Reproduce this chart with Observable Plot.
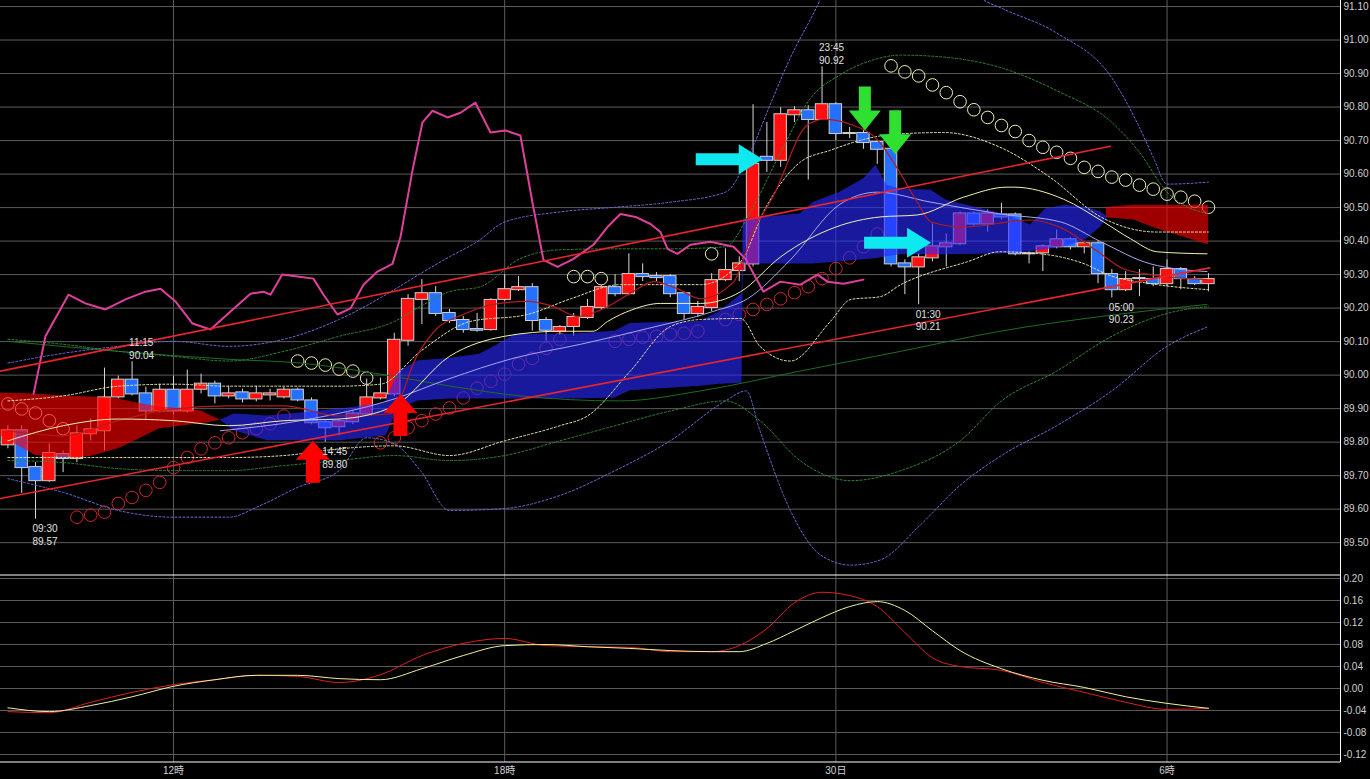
<!DOCTYPE html>
<html><head><meta charset="utf-8">
<script src="https://cdn.jsdelivr.net/npm/d3@7"></script>
<script src="https://cdn.jsdelivr.net/npm/@observablehq/plot@0.6"></script>
<style>
html,body{margin:0;padding:0;background:#000;}
#chart{width:1370px;height:779px;overflow:hidden;background:#000;}
#chart svg{display:block;}
</style></head><body><div id="chart"></div>
<script>
// ---- 15-minute candles, index 0 = 09:00 ----
const opens  = [89.792,89.834,89.724,89.685,89.763,89.751,89.825,89.834,89.935,89.985,89.944,89.893,89.955,89.893,89.958,89.973,89.938,89.947,89.929,89.941,89.935,89.955,89.923,89.858,89.846,89.861,89.884,89.932,89.944,90.104,90.226,90.243,90.184,90.163,90.136,90.136,90.226,90.255,90.261,90.163,90.131,90.145,90.172,90.202,90.261,90.243,90.300,90.294,90.294,90.243,90.184,90.202,90.285,90.312,90.332,90.650,90.641,90.777,90.789,90.763,90.807,90.721,90.721,90.694,90.674,90.332,90.323,90.350,90.383,90.392,90.481,90.451,90.478,90.478,90.362,90.365,90.383,90.404,90.383,90.392,90.300,90.255,90.288,90.285,90.273,90.315,90.285,90.273];
const highs  = [89.849,89.849,89.739,89.795,89.774,89.849,89.869,90.021,89.997,90.04,89.964,89.973,89.997,90.015,90.003,89.982,89.967,89.958,89.967,89.958,89.964,89.961,89.932,89.864,89.867,89.893,89.988,89.991,90.125,90.240,90.285,90.264,90.196,90.175,90.184,90.228,90.300,90.294,90.273,90.172,90.148,90.184,90.226,90.267,90.300,90.362,90.332,90.306,90.300,90.249,90.220,90.303,90.377,90.353,90.807,90.754,90.798,90.801,90.804,90.92,90.813,90.739,90.730,90.700,90.680,90.344,90.362,90.451,90.421,90.487,90.487,90.493,90.513,90.484,90.368,90.389,90.433,90.410,90.398,90.398,90.315,90.309,90.315,90.323,90.344,90.321,90.294,90.303];
const lows   = [89.780,89.647,89.57,89.680,89.709,89.739,89.804,89.774,89.929,89.938,89.864,89.887,89.881,89.887,89.944,89.914,89.929,89.917,89.920,89.923,89.929,89.920,89.852,89.80,89.819,89.852,89.878,89.926,89.935,90.086,90.151,90.175,90.154,90.125,90.128,90.131,90.220,90.249,90.131,90.101,90.119,90.116,90.166,90.196,90.234,90.237,90.279,90.279,90.231,90.166,90.172,90.190,90.279,90.279,90.323,90.605,90.620,90.754,90.582,90.760,90.700,90.706,90.674,90.629,90.323,90.240,90.21,90.338,90.323,90.386,90.445,90.427,90.463,90.356,90.332,90.309,90.377,90.374,90.362,90.273,90.23,90.249,90.234,90.264,90.264,90.255,90.267,90.249];
const closes = [89.834,89.724,89.685,89.766,89.751,89.825,89.837,89.932,89.985,89.944,89.893,89.955,89.893,89.955,89.973,89.938,89.944,89.929,89.944,89.944,89.955,89.926,89.858,89.843,89.861,89.884,89.932,89.944,90.104,90.226,90.243,90.184,90.163,90.136,90.134,90.223,90.255,90.261,90.163,90.134,90.142,90.172,90.202,90.261,90.243,90.300,90.294,90.291,90.243,90.184,90.202,90.282,90.312,90.332,90.629,90.641,90.777,90.789,90.763,90.807,90.721,90.721,90.694,90.674,90.332,90.323,90.350,90.383,90.392,90.481,90.451,90.481,90.472,90.362,90.362,90.383,90.404,90.383,90.392,90.303,90.255,90.285,90.288,90.273,90.315,90.288,90.273,90.285];

// ---- axis ticks ----
const priceTicks = [89.5,89.6,89.7,89.8,89.9,90.0,90.1,90.2,90.3,90.4,90.5,90.6,90.7,90.8,90.9,91.0,91.1];
const oscTicks = [-0.12,-0.08,-0.04,0,0.04,0.08,0.12,0.16,0.20];
const timeTickIdx = [12,36,60,84];
const timeTickLabels = ["12時","18時","30日","6時"];

// ---- ichimoku cloud [index, upper, lower] ----
const cloudRedLeft = [[-0.54,89.947,89.819],[2,89.944,89.760],[4,89.938,89.754],[6,89.935,89.757],[8,89.929,89.780],[9,89.92,89.80],[11,89.905,89.84],[12,89.902,89.845],[14,89.893,89.855],[15.4,89.865,89.865]];
const cloudBlue = [[15.4,89.865,89.865],[16.4,89.884,89.834],[18.8,89.878,89.804],[21.2,89.887,89.804],[24.1,89.899,89.804],[27.4,89.917,89.819],[28.2,90.006,89.893],[29.7,90.042,89.923],[32.1,90.050,89.929],[34.2,90.062,89.929],[36.2,90.107,89.929],[36.8,90.122,89.929],[40.8,90.122,89.929],[44,90.131,89.932],[45.1,90.154,89.953],[50.2,90.160,89.967],[51.6,90.190,89.973],[53.2,90.243,89.976],[53.3,90.466,90.332],[57.4,90.481,90.332],[58.4,90.516,90.332],[60.3,90.546,90.338],[62,90.585,90.344],[62.9,90.626,90.347],[63.7,90.567,90.353],[64.7,90.555,90.359],[66.9,90.552,90.359],[68,90.522,90.359],[72.4,90.478,90.362],[74.1,90.448,90.368],[75.2,90.496,90.374],[76.6,90.507,90.383],[78.1,90.501,90.404],[79.2,90.487,90.442],[79.7,90.472,90.472]];
const cloudRedRight = [[79.6,90.50,90.47],[81.6,90.507,90.463],[83.3,90.507,90.436],[84,90.507,90.427],[87,90.507,90.389]];

// ---- parabolic SAR [index, price] ----
const sarUpper = [[0,89.914],[1,89.899],[2,89.887],[3,89.864],[4,89.840],[21,90.042],[22,90.036],[23,90.030],[24,90.018],[25,90.012],[26,89.991],[41,90.294],[42,90.294],[43,90.288],[51,90.362],[64,90.923],[65,90.905],[66,90.893],[67,90.866],[68,90.843],[69,90.816],[70,90.792],[71,90.769],[72,90.745],[73,90.727],[74,90.700],[75,90.680],[76,90.665],[77,90.647],[78,90.620],[79,90.608],[80,90.591],[81,90.582],[82,90.567],[83,90.555],[84,90.540],[85,90.531],[86,90.519],[87,90.501]];
const sarLower = [[5,89.576],[6,89.582],[7,89.591],[8,89.617],[9,89.635],[10,89.656],[11,89.680],[12,89.724],[13,89.754],[14,89.780],[15,89.798],[16,89.813],[17,89.828],[18,89.840],[19,89.855],[20,89.878],[27,89.798],[28,89.813],[29,89.843],[30,89.864],[31,89.884],[32,89.902],[33,89.932],[34,89.961],[35,89.982],[36,90.003],[37,90.033],[38,90.050],[39,90.080],[40,90.107],[44,90.101],[45,90.107],[46,90.113],[47,90.116],[48,90.122],[49,90.125],[50,90.131],[52,90.166],[53,90.181],[54,90.196],[55,90.211],[56,90.228],[57,90.246],[58,90.264],[59,90.288],[60,90.318],[61,90.350],[62,90.383],[63,90.421]];

// ---- bands and averages [index, price] ----
const bandOuterUpper = [[0,90.036],[4,90.065],[8,90.086],[12,90.101],[16,90.086],[20,90.107],[24,90.166],[28,90.255],[29.9,90.303],[32,90.353],[34,90.398],[36,90.457],[40,90.487],[44,90.501],[48,90.516],[52,90.546],[53.8,90.665],[55.3,90.813],[56.7,90.947],[58.2,91.065],[60.3,91.228],[64.7,91.347],[68.3,91.228],[70.5,91.125],[72,91.095],[76,91.021],[80,90.887],[82,90.739],[83,90.650],[84,90.570],[87,90.576]];
const bandOuterLower = [[0,89.691],[4,89.650],[8,89.596],[12,89.576],[16,89.576],[18.3,89.611],[21,89.665],[24,89.715],[26,89.813],[28,89.795],[29.9,89.715],[32,89.596],[36,89.602],[40,89.641],[44,89.715],[48,89.804],[52,89.923],[53.5,89.953],[54.5,89.834],[56.7,89.596],[58.9,89.463],[61.1,89.433],[63.2,89.448],[66.1,89.552],[69,89.671],[72,89.760],[76,89.849],[80,89.953],[84,90.086],[87,90.145]];
const bandMidUpper = [[0,90.107],[4,90.092],[8,90.071],[12,90.056],[16,90.042],[20,90.071],[24,90.116],[28,90.160],[29.9,90.205],[32,90.249],[34.25,90.264],[37.1,90.347],[40,90.374],[44,90.377],[48,90.377],[52,90.383],[53.8,90.487],[56,90.665],[58.2,90.828],[60.3,90.896],[62.5,90.938],[64.7,90.955],[68.3,90.947],[72,90.917],[76,90.849],[80,90.754],[82,90.665],[84,90.546],[87,90.481]];
const bandMidLower = [[0,89.745],[4,89.739],[8,89.721],[12,89.715],[16,89.715],[20,89.730],[24,89.745],[28,89.760],[32,89.745],[36,89.760],[40,89.804],[44,89.849],[48,89.893],[52,89.923],[54.5,89.864],[57.4,89.745],[61.1,89.685],[64.7,89.715],[69,89.804],[72,89.923],[76,90.012],[80,90.116],[84,90.184],[87,90.205]];
const bandInnerUpper = [[0,89.923],[4,89.938],[8,89.967],[12,89.973],[16,89.967],[20,89.967],[24,89.967],[27,89.973],[29.9,90.071],[33.5,90.160],[37.65,90.181],[40.8,90.228],[44.4,90.270],[50.2,90.270],[53.1,90.338],[54.75,90.487],[57.4,90.635],[59.6,90.671],[62,90.703],[64,90.718],[67.8,90.724],[71.9,90.680],[75.5,90.591],[79.2,90.472],[83.3,90.427],[87,90.427]];
const bandInnerLower = [[0,89.754],[4,89.754],[8,89.754],[12,89.754],[16,89.754],[20,89.760],[24,89.780],[28,89.789],[32,89.760],[36,89.804],[40,89.849],[42,89.878],[45.1,90.012],[48,90.145],[50.2,90.166],[53.1,90.169],[54.5,90.086],[56.7,90.042],[59.6,90.160],[61.1,90.226],[63.2,90.234],[64.7,90.270],[69.5,90.338],[71.9,90.368],[74.8,90.362],[78.2,90.329],[79.7,90.300],[82.8,90.273],[87,90.255]];
const maCream = [[0,89.804],[4,89.849],[8,89.869],[12,89.864],[16,89.849],[20,89.864],[24,89.869],[28,89.908],[32,90.056],[36,90.116],[40,90.131],[42.4,90.131],[43.45,90.160],[45.3,90.196],[47.3,90.214],[50.2,90.214],[53.1,90.249],[56,90.353],[60,90.442],[63.2,90.472],[65.9,90.478],[69.25,90.531],[72.4,90.561],[72.9,90.561],[76.5,90.525],[79.4,90.457],[81.35,90.407],[83.3,90.368],[86.9,90.362]];
const maDarkRed = [[0,89.834],[4,89.819],[8,89.864],[12,89.899],[16,89.908],[20,89.908],[24,89.878],[27.7,89.884],[29.7,90.062],[31.1,90.139],[33,90.181],[35.2,90.211],[37.65,90.220],[39.5,90.205],[41.3,90.175],[43.2,90.199],[45.3,90.249],[46.8,90.279],[48.5,90.258],[50.2,90.228],[52.6,90.279],[54,90.427],[55.5,90.537],[57.9,90.745],[59.1,90.763],[61.1,90.748],[63,90.703],[64.5,90.614],[65.9,90.516],[66.9,90.457],[69.25,90.442],[74.1,90.463],[76.5,90.436],[79,90.368],[80.8,90.318],[82.8,90.300],[86.9,90.285]];
const maLavender = [[15.4,89.834],[21.2,89.864],[28,89.929],[31.9,89.988],[36.6,90.050],[41.5,90.092],[46.35,90.139],[51.1,90.190],[53.6,90.228],[56.7,90.344],[60.3,90.510],[63,90.546],[66.9,90.516],[71.9,90.481],[76.3,90.457],[79.2,90.398],[82.8,90.332],[86.9,90.309]];
const maDarkGreen = [[0,90.101],[8,90.071],[16.1,90.047],[21.2,90.036],[27,90.003],[32.1,89.967],[37.1,89.938],[44.4,89.923],[50.2,89.953],[57.4,90.012],[64.7,90.071],[71.9,90.131],[79.2,90.175],[86.9,90.211]];
const pinkLine = [[1.86,89.944],[2.72,90.116],[4.39,90.240],[5.62,90.214],[7.07,90.196],[8.52,90.226],[9.97,90.249],[11.06,90.258],[12.14,90.220],[13.38,90.154],[14.68,90.136],[16.13,90.190],[17.58,90.243],[18.52,90.249],[19.03,90.240],[19.88,90.300],[20.98,90.294],[22.14,90.288],[22.87,90.240],[23.88,90.181],[24.83,90.199],[25.77,90.270],[26.78,90.309],[27.87,90.332],[28.45,90.412],[29.32,90.611],[30.04,90.754],[30.77,90.789],[31.86,90.769],[32.80,90.783],[33.88,90.813],[34.97,90.724],[36.06,90.730],[37.14,90.715],[38.01,90.516],[38.81,90.344],[39.83,90.323],[40.99,90.347],[42.43,90.389],[43.45,90.442],[44.39,90.481],[45.48,90.472],[46.57,90.451],[47.29,90.427],[47.80,90.377],[48.52,90.362],[49.46,90.389],[50.91,90.398],[52.58,90.383],[53.45,90.347],[54.75,90.249],[55.99,90.279],[57.43,90.270],[58.67,90.300],[59.39,90.279],[60.55,90.273],[62.0,90.285]];
const trendUpper = [[-0.54,90.012],[79.9,90.683]];
const trendLower = [[-0.54,89.632],[87.1,90.320]];

// ---- signals and annotations ----
const arrowsUp = [[22.1,89.804],[28.45,89.944]];
const arrowsRight = [[54.7,90.644],[66.9,90.395]];
const arrowsDown = [[62.1,90.730],[64.3,90.659]];
const noteIdx = [2,9,23,59,66,80];
const noteTime = ["09:30","11:15","14:45","23:45","01:30","05:00"];
const notePrice = [89.57,90.04,89.80,90.92,90.21,90.23];
const noteAbove = [false,true,false,true,false,false];

// ---- lower oscillator [index, value] ----
const oscRed = [[0,-0.042],[3,-0.044],[6,-0.025],[9,-0.007],[12,0.007],[15,0.016],[18,0.024],[21,0.022],[24,0.011],[27,0.025],[30,0.060],[33,0.082],[36,0.091],[39,0.078],[42,0.076],[45,0.075],[48,0.067],[51,0.067],[53,0.078],[55,0.109],[57,0.156],[59,0.175],[61,0.169],[63,0.149],[65,0.102],[67,0.056],[69,0.040],[72,0.033],[75,0.011],[78,-0.007],[81,-0.025],[84,-0.038],[87,-0.036]];
const oscYellow = [[0,-0.035],[3,-0.042],[6,-0.031],[9,-0.015],[12,0.004],[15,0.016],[18,0.024],[21,0.024],[24,0.018],[27,0.016],[30,0.036],[33,0.060],[36,0.078],[39,0.080],[42,0.076],[45,0.073],[48,0.069],[51,0.067],[53,0.067],[55,0.082],[57,0.105],[59,0.129],[61,0.149],[63,0.158],[65,0.142],[67,0.105],[69,0.069],[72,0.036],[75,0.015],[78,0.002],[81,-0.015],[84,-0.027],[87,-0.036]];

(function () {
const candles = opens.map((o, i) => ({i, o, h: highs[i], l: lows[i], c: closes[i]}));
const notes = noteIdx.map((i, k) => ({i, p: notePrice[k], t: noteTime[k] + "\n" + notePrice[k].toFixed(2), above: noteAbove[k]}));
const cloudRows = (arr) => arr.map(([i, a, b]) => ({i, a, b}));
const X = d => d[0], Y = d => d[1];
const xDomain = [-0.536, 96.57];
const W = 1370;
const font = "'Liberation Sans', Arial, 'Noto Sans CJK JP', sans-serif";

const upArrow = {draw(c){c.moveTo(0,0);c.lineTo(17,19);c.lineTo(7,19);c.lineTo(7,42);c.lineTo(-7,42);c.lineTo(-7,19);c.lineTo(-17,19);c.closePath();}};
const rightArrow = {draw(c){c.moveTo(0,0);c.lineTo(-24,-15);c.lineTo(-24,-6);c.lineTo(-67,-6);c.lineTo(-67,6);c.lineTo(-24,6);c.lineTo(-24,15);c.closePath();}};
const downArrow = {draw(c){c.moveTo(0,0);c.lineTo(-16,-20);c.lineTo(-6,-20);c.lineTo(-6,-44);c.lineTo(6,-44);c.lineTo(6,-20);c.lineTo(16,-20);c.closePath();}};

const RED = "#ff1010", BLUE = "#2470ff";
const dotted = {strokeWidth: 1, strokeDasharray: "2,2", curve: "monotone-x", clip: true};

const priceChart = Plot.plot({
  width: W, height: 574,
  marginLeft: 0, marginRight: 30, marginTop: 0, marginBottom: 0,
  style: {background: "#000", color: "#d0d0d0", fontSize: "10px", fontFamily: font},
  x: {domain: xDomain, axis: null},
  y: {domain: [89.405, 91.118], axis: "right", ticks: priceTicks, tickFormat: d => d.toFixed(2), tickSize: 0, tickPadding: 3, label: null},
  marks: [
    Plot.ruleY(priceTicks, {stroke: "#5c5c5c"}),
    Plot.ruleX(timeTickIdx, {stroke: "#5c5c5c"}),
    Plot.dot(sarLower, {x: X, y: Y, r: 6.3, stroke: "#d02828", strokeWidth: 1}),
    Plot.dot(sarUpper, {x: X, y: Y, r: 6.3, stroke: "#f0f0b8", strokeWidth: 1}),
    Plot.ruleX(candles, {x: "i", y1: "l", y2: "h", stroke: "#d8d8d8", strokeWidth: 1}),
    Plot.rect(candles, {x1: d => d.i - 0.45, x2: d => d.i + 0.45, y1: "o", y2: "c", insetTop: -0.5, insetBottom: -0.5,
      fill: d => d.c >= d.o ? RED : BLUE, stroke: "#d0d0d0", strokeWidth: 1}),
    Plot.areaY(cloudRows(cloudRedLeft), {x: "i", y1: "a", y2: "b", fill: "#ff0000", fillOpacity: 0.62}),
    Plot.areaY(cloudRows(cloudBlue), {x: "i", y1: "a", y2: "b", fill: "#2828ff", fillOpacity: 0.62}),
    Plot.areaY(cloudRows(cloudRedRight), {x: "i", y1: "a", y2: "b", fill: "#ff0000", fillOpacity: 0.62}),
    Plot.line(maDarkGreen, {x: X, y: Y, stroke: "#1f6e1f", strokeWidth: 1, curve: "monotone-x"}),
    Plot.line(bandOuterUpper, {x: X, y: Y, stroke: "#6a6ad8", ...dotted}),
    Plot.line(bandOuterLower, {x: X, y: Y, stroke: "#6a6ad8", ...dotted}),
    Plot.line(bandMidUpper, {x: X, y: Y, stroke: "#2f8a2f", ...dotted}),
    Plot.line(bandMidLower, {x: X, y: Y, stroke: "#2f8a2f", ...dotted}),
    Plot.line(bandInnerUpper, {x: X, y: Y, stroke: "#e6e6b0", ...dotted}),
    Plot.line(bandInnerLower, {x: X, y: Y, stroke: "#e6e6b0", ...dotted}),
    Plot.line(maLavender, {x: X, y: Y, stroke: "#a8a8f0", strokeWidth: 1, curve: "monotone-x"}),
    Plot.line(maDarkRed, {x: X, y: Y, stroke: "#b41c1c", strokeWidth: 1.2, curve: "monotone-x"}),
    Plot.line(maCream, {x: X, y: Y, stroke: "#f2f2b0", strokeWidth: 1, curve: "monotone-x"}),
    Plot.line(pinkLine, {x: X, y: Y, stroke: "#e0409c", strokeWidth: 2}),
    Plot.line(trendUpper, {x: X, y: Y, stroke: "#e8242c", strokeWidth: 1.6}),
    Plot.line(trendLower, {x: X, y: Y, stroke: "#e8242c", strokeWidth: 1.6}),
    Plot.dot(arrowsUp, {x: X, y: Y, symbol: upArrow, fill: "#ff0000", stroke: "none"}),
    Plot.dot(arrowsRight, {x: X, y: Y, symbol: rightArrow, fill: "#10e8f0", stroke: "none"}),
    Plot.dot(arrowsDown, {x: X, y: Y, symbol: downArrow, fill: "#30e030", stroke: "none"}),
    Plot.text(notes.filter(d => !d.above), {x: "i", y: "p", text: "t", textAnchor: "start", lineAnchor: "top", dx: -3, dy: 4, fill: "#e0e0e0", fontSize: 10, lineHeight: 1.25}),
    Plot.text(notes.filter(d => d.above), {x: "i", y: "p", text: "t", textAnchor: "start", lineAnchor: "bottom", dx: -3, dy: -3, fill: "#e0e0e0", fontSize: 10, lineHeight: 1.25}),
    Plot.ruleX([xDomain[1]], {stroke: "#ffffff"})
  ]
});

const oscChart = Plot.plot({
  width: W, height: 205,
  marginLeft: 0, marginRight: 30, marginTop: 0, marginBottom: 17,
  style: {background: "#000", color: "#d0d0d0", fontSize: "10px", fontFamily: font},
  x: {domain: xDomain, axis: "bottom", ticks: timeTickIdx, tickFormat: d => timeTickLabels[timeTickIdx.indexOf(d)], tickSize: 0, tickPadding: 4, label: null},
  y: {domain: [-0.1345, 0.2073], axis: "right", ticks: oscTicks, tickFormat: d => d.toFixed(2), tickSize: 0, tickPadding: 3, label: null},
  marks: [
    Plot.ruleY(oscTicks, {stroke: "#5c5c5c"}),
    Plot.ruleX(timeTickIdx, {stroke: "#5c5c5c"}),
    Plot.line(oscRed, {x: X, y: Y, stroke: "#e02020", strokeWidth: 1, curve: "monotone-x"}),
    Plot.line(oscYellow, {x: X, y: Y, stroke: "#f0f0a0", strokeWidth: 1, curve: "monotone-x"}),
    Plot.ruleY([0.2073], {stroke: "#ffffff", dy: 0.5}),
    Plot.ruleY([-0.1345], {stroke: "#ffffff", dy: -0.5}),
    Plot.ruleX([xDomain[1]], {stroke: "#ffffff"})
  ]
});

document.getElementById("chart").append(priceChart, oscChart);
})();
</script></body></html>
